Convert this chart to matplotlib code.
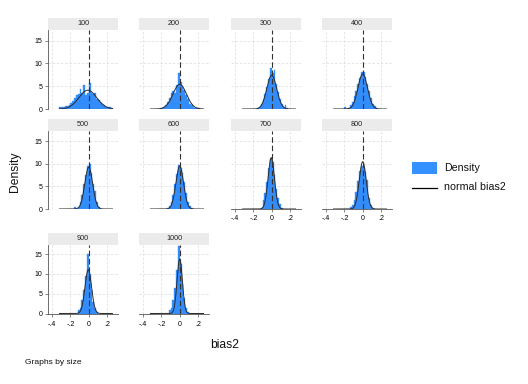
import numpy as np
import matplotlib
matplotlib.use("Agg")
import matplotlib.pyplot as plt
from matplotlib.patches import Rectangle
from matplotlib.lines import Line2D

plt.rcParams['font.family'] = ['Liberation Sans', 'DejaVu Sans']

# ---------------- data ----------------
sizes = [100, 200, 300, 400, 500, 600, 700, 800, 900, 1000]
bin_width = 0.02
hist_start = {100: -0.32, 200: -0.20, 300: -0.16, 400: -0.20, 500: -0.16,
              600: -0.14, 700: -0.12, 800: -0.14, 900: -0.12, 1000: -0.12}
hist_heights = {
    100: [0.4, 0.4, 0.4, 0.6, 0.6, 0.9, 1.4, 1.8, 2.4, 3.0, 3.2, 4.4, 3.4, 5.2, 3.0,
          3.4, 5.8, 3.6, 3.2, 3.4, 2.2, 2.0, 1.4, 1.0, 0.8, 0.5, 0.4, 0.4, 0.3],
    200: [0.3, 0.5, 0.8, 1.5, 2.5, 3.6, 4.0, 3.6, 5.2, 7.8, 6.0, 5.0, 4.2, 3.0, 2.2,
          1.2, 0.8, 0.4, 0.3, 0.2, 0.2],
    300: [0.2, 0.5, 1.2, 2.0, 3.2, 4.8, 6.5, 9.0, 7.8, 8.5, 5.5, 3.8, 2.2, 1.0, 0.5,
          0.8, 0.2],
    400: [0.5, 0.0, 0.3, 0.8, 1.5, 2.8, 4.0, 5.5, 6.8, 8.0, 8.0, 7.0, 5.5, 4.0, 2.5,
          1.2, 0.6, 0.3],
    500: [0.4, 0.0, 0.5, 1.5, 3.0, 5.5, 7.5, 9.5, 10.0, 8.0, 5.5, 4.0, 1.5, 0.5],
    600: [0.3, 0.6, 1.5, 3.2, 5.5, 7.8, 9.8, 9.2, 8.0, 6.0, 3.5, 1.5, 0.6, 0.3],
    700: [0.3, 2.0, 3.5, 6.0, 9.0, 11.0, 10.5, 7.5, 4.5, 2.5, 1.0, 0.3],
    800: [0.4, 0.8, 2.0, 3.8, 6.2, 8.5, 9.5, 9.0, 8.2, 6.4, 2.5, 0.8, 0.3],
    900: [1.0, 1.5, 3.5, 6.0, 9.5, 15.0, 10.0, 6.0, 3.0, 1.5, 0.5],
    1000: [0.8, 1.5, 3.5, 6.5, 11.0, 17.0, 12.5, 7.5, 4.0, 1.5, 0.3],
}
norm_mean = {100: -0.01, 200: 0.0, 300: 0.0, 400: 0.0, 500: 0.0,
             600: 0.0, 700: -0.005, 800: 0.0, 900: -0.005, 1000: 0.0}
norm_sd = {100: 0.097, 200: 0.074, 300: 0.054, 400: 0.052, 500: 0.043,
           600: 0.042, 700: 0.035, 800: 0.038, 900: 0.036, 1000: 0.029}
curve_range = (-0.32, 0.26)
x_ticks = [-0.4, -0.2, 0.0, 0.2]
x_ticklabels = ["-.4", "-.2", "0", ".2"]
y_ticks = [0, 5, 10, 15]
y_ticklabels = ["0", "5", "10", "15"]

# ---------------- layout ----------------
W, H = 528, 384
fig = plt.figure(figsize=(W / 100, H / 100), dpi=100)
fig.patch.set_facecolor("white")

col_x = [48, 139, 231, 322]
pw = 70
row_top = [30, 131, 245]
row_bot = [109, 209, 313.5]
strip_h = 12

bar_color = "#3591ff"
line_color = "#2a2a2a"
grid_color = "#e0e0e0"
xlim = (-0.445, 0.32)
ylim = (0, 17.3)

has_xlabels = {6, 7, 8, 9}

for k, s in enumerate(sizes):
    r, c = divmod(k, 4)
    left = col_x[c]
    top = row_top[r]
    bot = row_bot[r]
    ax = fig.add_axes([left / W, 1 - bot / H, pw / W, (bot - top) / H])
    ax.set_xlim(*xlim)
    ax.set_ylim(*ylim)
    for sp in ax.spines.values():
        sp.set_visible(False)
    # grid
    for xv in x_ticks:
        if xv != 0:
            ax.axvline(xv, color=grid_color, lw=0.6, ls=(0, (3, 2)), zorder=0)
    for yv in y_ticks[1:]:
        ax.axhline(yv, color=grid_color, lw=0.6, ls=(0, (3, 2)), zorder=0)
    # histogram
    h = np.array(hist_heights[s])
    edges = hist_start[s] + bin_width * np.arange(len(h))
    ax.bar(edges, h, width=bin_width, align="edge", color=bar_color,
           edgecolor="#2f85ee", linewidth=0.25, zorder=2)
    # normal curve
    xs = np.linspace(curve_range[0], curve_range[1], 300)
    m, sd = norm_mean[s], norm_sd[s]
    ys = np.exp(-0.5 * ((xs - m) / sd) ** 2) / (sd * np.sqrt(2 * np.pi))
    ax.plot(xs, ys, color=line_color, lw=0.7, zorder=3)
    # xline at 0
    ax.axvline(0, color="#333333", lw=0.8, ls=(0, (5, 2.5)), zorder=4)

    # y axis
    if c == 0:
        ax.spines["left"].set_visible(True)
        ax.spines["left"].set_color("#555555")
        ax.spines["left"].set_linewidth(0.6)
        ax.set_yticks(y_ticks)
        ax.set_yticklabels(y_ticklabels)
        ax.tick_params(axis="y", length=2.5, width=0.5, color="#555555",
                       labelsize=5, pad=1.5)
    else:
        ax.set_yticks([])
    if k in has_xlabels:
        ax.spines["bottom"].set_visible(True)
        ax.spines["bottom"].set_color("#555555")
        ax.spines["bottom"].set_linewidth(0.6)
        ax.set_xticks(x_ticks)
        ax.set_xticklabels(x_ticklabels)
        ax.tick_params(axis="x", length=2.5, width=0.5, color="#555555",
                       labelsize=5, pad=3.0 if r == 2 else 1.5)
    else:
        ax.set_xticks([])

    # strip
    fig.patches.append(Rectangle((left / W, 1 - (top - 0.5) / H), pw / W,
                                 strip_h / H, transform=fig.transFigure,
                                 facecolor="#ebebeb", edgecolor="none"))
    fig.text((left + pw / 2) / W, 1 - (top - 0.5 - strip_h / 2) / H, str(s),
             ha="center", va="center", fontsize=5.2, color="#222222")

# legend
fig.patches.append(Rectangle((412 / W, 1 - 174.5 / H), 25 / W, 12.5 / H,
                             transform=fig.transFigure, facecolor=bar_color,
                             edgecolor="none"))
fig.text(444 / W, 1 - 168.5 / H, "Density", ha="left", va="center",
         fontsize=7.7, color="#111111")
fig.lines.append(Line2D([412 / W, 437 / W], [1 - 187.5 / H, 1 - 187.5 / H],
                        transform=fig.transFigure, color="black", lw=0.9))
fig.text(444 / W, 1 - 187.5 / H, "normal bias2", ha="left", va="center",
         fontsize=7.7, color="#111111")

# axis titles
fig.text(15 / W, 1 - 172 / H, "Density", rotation=90, ha="center",
         va="center", fontsize=8.7, color="#111111")
fig.text(225 / W, 1 - 345 / H, "bias2", ha="center", va="center",
         fontsize=8.7, color="#111111")
fig.text(25 / W, 1 - 362 / H, "Graphs by size", ha="left", va="center",
         fontsize=6.1, color="#111111")

fig.savefig("out.png", dpi=100, facecolor="white")
